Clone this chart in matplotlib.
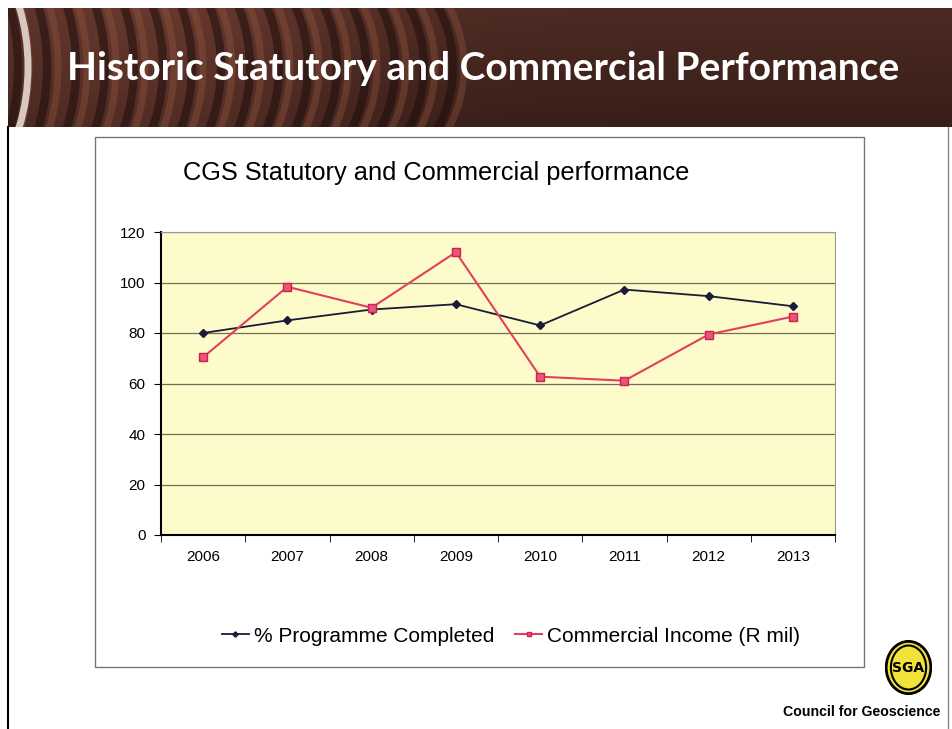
import matplotlib.pyplot as plt
import numpy as np
from matplotlib.patches import Rectangle, Ellipse, Arc

years = ['2006', '2007', '2008', '2009', '2010', '2011', '2012', '2013']
programme = [80, 85, 89.3, 91.4, 83, 97.2, 94.6, 90.6]
income = [70.4, 98.3, 90, 112, 62.7, 61.1, 79.4, 86.5]
y_ticks = [0, 20, 40, 60, 80, 100, 120]

W, H = 952, 729
fig = plt.figure(figsize=(W / 100, H / 100), dpi=100)
fig.patch.set_facecolor('white')


def px_axes(x0, y0, x1, y1, **kw):
    # axes from pixel box (top-left origin)
    return fig.add_axes([x0 / W, 1 - y1 / H, (x1 - x0) / W, (y1 - y0) / H], **kw)


# naglowek slajdu
hdr = px_axes(8, 8, 952, 127)
xx = np.linspace(0, 1, 400)
yy = np.linspace(0, 1, 60)
X, Y = np.meshgrid(xx, yy)
base = 0.30 + 0.10 * np.exp(-((X - 0.15) ** 2) / 0.05) - 0.08 * Y
img = np.dstack([base * 1.0, base * 0.55, base * 0.45])
hdr.imshow(np.clip(img, 0, 1), extent=[0, 944, 0, 119], aspect='auto')
for i in range(16):
    cx = -60 + i * 25
    hdr.add_patch(Arc((cx, 60), 140 + i * 8, 260, theta1=-60, theta2=60,
                      color='#1e0d0b', lw=6, alpha=0.55))
    hdr.add_patch(Arc((cx + 11, 60), 140 + i * 8, 260, theta1=-60, theta2=60,
                      color='#9a5a40', lw=5, alpha=0.35))
hdr.add_patch(Arc((-40, 60), 120, 230, theta1=-75, theta2=75, color='#d8c8c0', lw=5))
hdr.set_xlim(0, 944)
hdr.set_ylim(0, 119)
hdr.axis('off')
hdr.text(475, 58, 'Historic Statutory and Commercial Performance', color='white',
         fontsize=28, fontfamily='Lato', fontweight='bold',
         ha='center', va='center')

# ramki slajdu
fig.add_artist(plt.Line2D([8 / W, 8 / W], [0, 1 - 127 / H], color='black', lw=1.5))
fig.add_artist(plt.Line2D([948 / W, 948 / W], [0, 1 - 127 / H], color='#888888', lw=1))

# ramka wykresu
fig.add_artist(Rectangle((95 / W, 1 - 667 / H), 769 / W, 530 / H, transform=fig.transFigure,
                         facecolor='white', edgecolor='#777777', lw=1, zorder=-1))
fig.text(436 / W, 1 - 173 / H, 'CGS Statutory and Commercial performance',
         fontsize=18.3, fontfamily='Liberation Sans', ha='center', va='center')

ax = px_axes(161, 232, 835, 535)
ax.set_facecolor('#fdfbc9')
x = np.arange(len(years))
ax.plot(x, programme, color='#1a1a3a', lw=1.3, marker='D', ms=4.5,
        label='% Programme Completed', zorder=3)
ax.plot(x, income, color='#e0405e', lw=1.5, marker='s', ms=6, mfc='#e8557a',
        mec='#d02050', label='Commercial Income (R mil)', zorder=3)
ax.set_xlim(-0.5, len(years) - 0.5)
ax.set_ylim(0, 120)
ax.set_yticks(y_ticks)
ax.set_xticks(x)
ax.set_xticklabels(years)
ax.set_xticks(np.arange(-0.5, len(years), 1), minor=True)
ax.tick_params(axis='x', which='major', length=0, pad=11)
ax.tick_params(axis='x', which='minor', length=5, direction='out')
ax.tick_params(axis='y', length=5, direction='out', pad=6)
ax.tick_params(labelsize=11)
for lab in ax.get_xticklabels() + ax.get_yticklabels():
    lab.set_fontfamily('Liberation Sans')
ax.grid(axis='y', color='#707058', lw=0.9)
ax.set_axisbelow(True)
for s in ['top', 'right']:
    ax.spines[s].set_color('#999999')
ax.spines['left'].set_linewidth(1.5)
ax.spines['bottom'].set_linewidth(1.5)

leg = fig.legend(loc='center', bbox_to_anchor=(511 / W, 1 - 636 / H), ncol=2, frameon=False,
                 prop={'family': 'Liberation Sans', 'size': 15}, handlelength=1.3,
                 handletextpad=0.25, columnspacing=1.0, markerscale=0.6)

# logo i podpis
logo = px_axes(885, 640, 932, 695)
logo.add_patch(Ellipse((0.5, 0.5), 0.95, 0.95, facecolor='#f2e33a', edgecolor='black', lw=2))
logo.add_patch(Ellipse((0.5, 0.5), 0.75, 0.8, facecolor='none', edgecolor='black', lw=1.5))
logo.text(0.5, 0.5, 'SGA', fontsize=10, fontweight='bold', ha='center', va='center')
logo.set_xlim(0, 1)
logo.set_ylim(0, 1)
logo.axis('off')
fig.text(940 / W, 1 - 712 / H, 'Council for Geoscience', fontsize=10.2, fontweight='bold',
         fontfamily='Liberation Sans', ha='right', va='center')

fig.savefig('out.png', dpi=100)
